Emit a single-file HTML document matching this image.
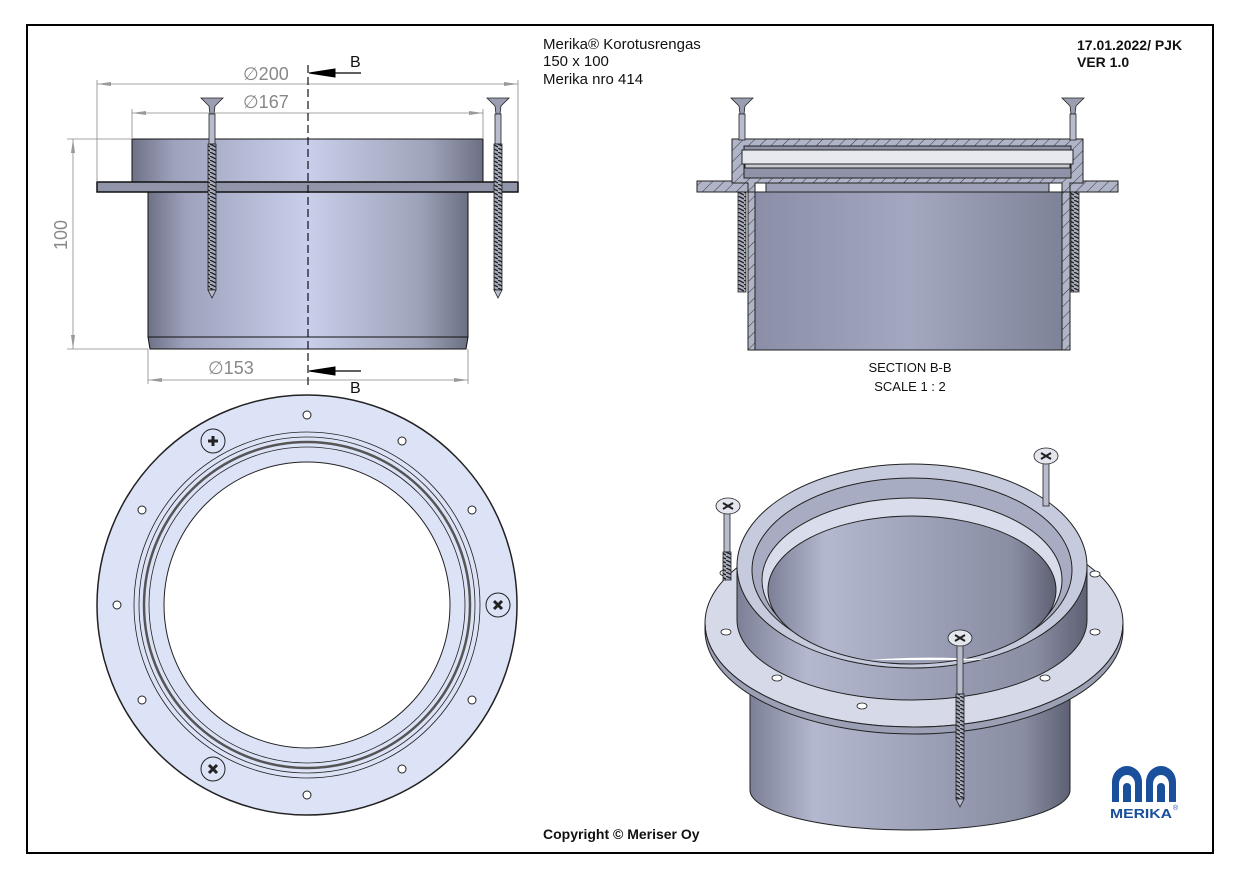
<!DOCTYPE html>
<html><head><meta charset="utf-8"><style>
html,body{margin:0;padding:0;background:#fff;}
svg{display:block;}
text{font-family:"Liberation Sans",sans-serif;}
</style></head><body>
<svg width="1237" height="878" viewBox="0 0 1237 878" xmlns="http://www.w3.org/2000/svg">
<defs>
<linearGradient id="cyl" x1="0" x2="1" y1="0" y2="0">
<stop offset="0" stop-color="#6f7286"/><stop offset="0.12" stop-color="#9ea2bd"/><stop offset="0.5" stop-color="#c9cfea"/><stop offset="0.85" stop-color="#9da2b8"/><stop offset="1" stop-color="#6d7083"/>
</linearGradient>
<linearGradient id="cyl2" x1="0" x2="1" y1="0" y2="0">
<stop offset="0" stop-color="#8a8ea6"/><stop offset="0.5" stop-color="#a3a8c0"/><stop offset="1" stop-color="#7f8398"/>
</linearGradient>
<linearGradient id="iso" x1="0" x2="1" y1="0" y2="0">
<stop offset="0" stop-color="#7c8096"/><stop offset="0.2" stop-color="#b4b8cf"/><stop offset="0.5" stop-color="#9fa4bb"/><stop offset="0.85" stop-color="#8a8ea3"/><stop offset="1" stop-color="#5e6174"/>
</linearGradient>
<pattern id="hatch" width="8" height="8" patternUnits="userSpaceOnUse" patternTransform="rotate(45)"><rect width="8" height="8" fill="#b0b4c8"/><line x1="0" y1="0" x2="0" y2="8" stroke="#333" stroke-width="1"/></pattern>
<pattern id="thread" width="6" height="4" patternUnits="userSpaceOnUse"><rect width="6" height="4" fill="#a8acbd"/><line x1="0" y1="0" x2="6" y2="3" stroke="#222" stroke-width="1.3"/></pattern>
</defs>
<rect x="27" y="25" width="1186" height="828" fill="none" stroke="#000" stroke-width="2"/>

<text x="543" y="49" font-size="15" fill="#111">Merika® Korotusrengas</text>
<text x="543" y="66" font-size="15" fill="#111">150 x 100</text>
<text x="543" y="84" font-size="15" fill="#111">Merika nro 414</text>
<text x="1077" y="50" font-size="14" font-weight="bold" fill="#111">17.01.2022/ PJK</text>
<text x="1077" y="67" font-size="14" font-weight="bold" fill="#111">VER 1.0</text>
<text x="543" y="839" font-size="14" font-weight="bold" fill="#111">Copyright © Meriser Oy</text>

<g stroke="#111" stroke-width="1">
<rect x="132" y="139" width="351" height="43" fill="url(#cyl)"/>
<rect x="148" y="192" width="320" height="145" fill="url(#cyl)"/>
<path d="M148 337 L468 337 L466 349 L150 349 Z" fill="url(#cyl)"/>
<rect x="97" y="182" width="421" height="10" fill="#9095aa" stroke-width="1.5"/>
</g>
<g stroke="#222" stroke-width="0.8">
<path d="M201 98 L223 98 L215 106 L214 114 L210 114 L209 106 Z" fill="#9a9eb0"/>
<rect x="209" y="114" width="6" height="30" fill="#b8bccd"/>
<rect x="208" y="144" width="8" height="146" fill="url(#thread)"/>
<path d="M208 290 L216 290 L212 298 Z" fill="#b8bccd"/>
<path d="M487 98 L509 98 L501 106 L500 114 L496 114 L495 106 Z" fill="#9a9eb0"/>
<rect x="495" y="114" width="6" height="30" fill="#b8bccd"/>
<rect x="494" y="144" width="8" height="146" fill="url(#thread)"/>
<path d="M494 290 L502 290 L498 298 Z" fill="#b8bccd"/>
</g>
<g stroke="#888" stroke-width="0.8" fill="none">
<line x1="97" y1="84" x2="518" y2="84"/>
<line x1="97" y1="80" x2="97" y2="182"/><line x1="518" y1="80" x2="518" y2="182"/>
<line x1="132" y1="113" x2="483" y2="113"/>
<line x1="132" y1="109" x2="132" y2="139"/><line x1="483" y1="109" x2="483" y2="139"/>
<line x1="148" y1="380" x2="468" y2="380"/>
<line x1="148" y1="349" x2="148" y2="384"/><line x1="468" y1="349" x2="468" y2="384"/>
<line x1="73" y1="139" x2="73" y2="349"/>
<line x1="67" y1="139" x2="132" y2="139"/><line x1="67" y1="349" x2="148" y2="349"/>
</g>
<g fill="#999">
<path d="M97 84 L111 82 L111 86Z"/><path d="M518 84 L504 82 L504 86Z"/>
<path d="M132 113 L146 111 L146 115Z"/><path d="M483 113 L469 111 L469 115Z"/>
<path d="M148 380 L162 378 L162 382Z"/><path d="M468 380 L454 378 L454 382Z"/>
<path d="M73 139 L71 153 L75 153Z"/><path d="M73 349 L71 335 L75 335Z"/>
</g>
<g font-size="18" fill="#888">
<text x="243" y="80">∅200</text>
<text x="243" y="108">∅167</text>
<text x="208" y="374">∅153</text>
<text transform="translate(67,250) rotate(-90)">100</text>
</g>
<line x1="308" y1="65" x2="308" y2="386" stroke="#111" stroke-width="1.2" stroke-dasharray="8,4"/>
<g fill="#000" stroke="#000">
<path d="M309 73 L335 69 L335 77Z"/><line x1="335" y1="73" x2="361" y2="73" stroke-width="1.2"/>
<path d="M309 371 L335 367 L335 375Z"/><line x1="335" y1="371" x2="361" y2="371" stroke-width="1.2"/>
</g>
<text x="350" y="67" font-size="16" fill="#111">B</text>
<text x="350" y="393" font-size="16" fill="#111">B</text>

<g stroke="#222" stroke-width="1">
<rect x="755" y="192" width="307" height="158" fill="url(#cyl2)"/>
<rect x="748" y="192" width="7" height="158" fill="url(#hatch)"/>
<rect x="1062" y="192" width="8" height="158" fill="url(#hatch)"/>
<path d="M697 181 L748 181 L748 192 L697 192 Z" fill="url(#hatch)"/>
<path d="M1070 181 L1118 181 L1118 192 L1070 192 Z" fill="url(#hatch)"/>
<path d="M732 139 L1083 139 L1083 183 L1070 183 L1070 192 L1062 192 L1062 183 L755 183 L755 192 L748 192 L748 183 L732 183Z" fill="url(#hatch)"/>
<rect x="744" y="146" width="327" height="32" fill="#8f93a8"/>
<rect x="742" y="150" width="331" height="14" fill="#e8e9ee"/>
<rect x="745" y="164" width="325" height="4" fill="#c7c9d3"/>
<rect x="766" y="183" width="283" height="9" fill="#9da1b7"/>
</g>
<g stroke="#222" stroke-width="0.8">
<path d="M731 98 L753 98 L745 106 L744 114 L740 114 L739 106 Z" fill="#9a9eb0"/>
<rect x="739" y="114" width="6" height="26" fill="#b8bccd"/>
<rect x="738" y="192" width="8" height="100" fill="url(#thread)"/>
<path d="M1062 98 L1084 98 L1076 106 L1075 114 L1071 114 L1070 106 Z" fill="#9a9eb0"/>
<rect x="1070" y="114" width="6" height="26" fill="#b8bccd"/>
<rect x="1071" y="192" width="8" height="100" fill="url(#thread)"/>
</g>
<text x="910" y="372" font-size="13" fill="#111" text-anchor="middle">SECTION B-B</text>
<text x="910" y="391" font-size="13" fill="#111" text-anchor="middle">SCALE 1 : 2</text>

<g stroke="#222" fill="none">
<circle cx="307" cy="605" r="210" fill="#dde3f7" stroke-width="1.5"/>
<circle cx="307" cy="605" r="173" stroke-width="0.8"/>
<circle cx="307" cy="605" r="168" stroke-width="0.8"/>
<circle cx="307" cy="605" r="163" stroke-width="2.5" stroke="#555"/>
<circle cx="307" cy="605" r="158" stroke-width="0.8"/>
<circle cx="307" cy="605" r="143" fill="#fff" stroke-width="1"/>
</g>
<g stroke="#222" fill="#fff" stroke-width="1">
<circle cx="307" cy="415" r="4"/><circle cx="402" cy="441" r="4"/><circle cx="472" cy="510" r="4"/>
<circle cx="472" cy="700" r="4"/><circle cx="402" cy="769" r="4"/><circle cx="307" cy="795" r="4"/>
<circle cx="142" cy="700" r="4"/><circle cx="117" cy="605" r="4"/><circle cx="142" cy="510" r="4"/>
</g>
<g stroke="#222" fill="#dde3f7" stroke-width="1">
<circle cx="213" cy="441" r="12"/><path d="M208 441h10M213 436v10" stroke-width="3"/>
<circle cx="498" cy="605" r="12"/><path d="M494 601l8 8M502 601l-8 8" stroke-width="3"/>
<circle cx="213" cy="769" r="12"/><path d="M209 765l8 8M217 765l-8 8" stroke-width="3"/>
</g>

<g stroke="#222" stroke-width="1">
<path d="M750 690 L750 790 A160 40 0 0 0 1070 790 L1070 690 Z" fill="url(#iso)"/>
<ellipse cx="914" cy="623" rx="209" ry="104" fill="#d6d9e8"/>
<path d="M705 623 A209 104 0 0 0 1123 623 L1123 630 A209 104 0 0 1 705 630Z" fill="#9ca0b5"/>
<path d="M737 566 L737 620 A175 80 0 0 0 1087 620 L1087 566 Z" fill="url(#iso)"/>
<ellipse cx="912" cy="566" rx="175" ry="102" fill="#c6cadd"/>
<ellipse cx="912" cy="570" rx="160" ry="92" fill="#a8acc2"/>
<ellipse cx="912" cy="580" rx="150" ry="82" fill="#d9dcea"/>
<ellipse cx="912" cy="590" rx="144" ry="74" fill="url(#iso)"/>
<path d="M870 660 A144 25 0 0 1 990 660 Z" fill="#fff" stroke="none"/>
</g>
<g stroke="#222" fill="#fff" stroke-width="0.8">
<ellipse cx="725" cy="573" rx="5" ry="3"/><ellipse cx="726" cy="632" rx="5" ry="3"/>
<ellipse cx="777" cy="678" rx="5" ry="3"/><ellipse cx="862" cy="706" rx="5" ry="3"/>
<ellipse cx="1045" cy="678" rx="5" ry="3"/><ellipse cx="1095" cy="632" rx="5" ry="3"/><ellipse cx="1095" cy="574" rx="5" ry="3"/>
</g>
<g stroke="#222" stroke-width="0.8">
<rect x="724" y="512" width="6" height="40" fill="#b8bccd"/><rect x="723" y="552" width="8" height="28" fill="url(#thread)"/>
<ellipse cx="728" cy="506" rx="12" ry="8" fill="#e4e6ee"/><path d="M723 503l10 6M733 503l-10 6" stroke-width="2"/>
<rect x="1043" y="462" width="6" height="44" fill="#b8bccd"/>
<ellipse cx="1046" cy="456" rx="12" ry="8" fill="#e4e6ee"/><path d="M1041 453l10 6M1051 453l-10 6" stroke-width="2"/>
<rect x="957" y="644" width="6" height="50" fill="#b8bccd"/><rect x="956" y="694" width="8" height="105" fill="url(#thread)"/>
<path d="M956 799 L964 799 L960 807Z" fill="#b8bccd"/>
<ellipse cx="960" cy="638" rx="12" ry="8" fill="#e4e6ee"/><path d="M955 635l10 6M965 635l-10 6" stroke-width="2"/>
</g>

<g fill="#1a4f9c">
<path d="M1112 802 L1112 782 A15 16 0 0 1 1142 782 L1142 802 L1135 802 L1135 784 A8 9 0 0 0 1119 784 L1119 802 Z"/>
<path d="M1146 802 L1146 782 A15 16 0 0 1 1176 782 L1176 802 L1169 802 L1169 784 A8 9 0 0 0 1153 784 L1153 802 Z"/>
<path d="M1123 802 L1123 787 A4 4 0 0 1 1131 787 L1131 802 Z"/>
<path d="M1157 802 L1157 787 A4 4 0 0 1 1165 787 L1165 802 Z"/>
<text x="1110" y="818" font-size="12.5" font-weight="bold" fill="#1a4f9c" textLength="62" lengthAdjust="spacingAndGlyphs">MERIKA</text>
<text x="1173" y="810" font-size="7" fill="#1a4f9c">®</text>
</g>
</svg>
</body></html>
